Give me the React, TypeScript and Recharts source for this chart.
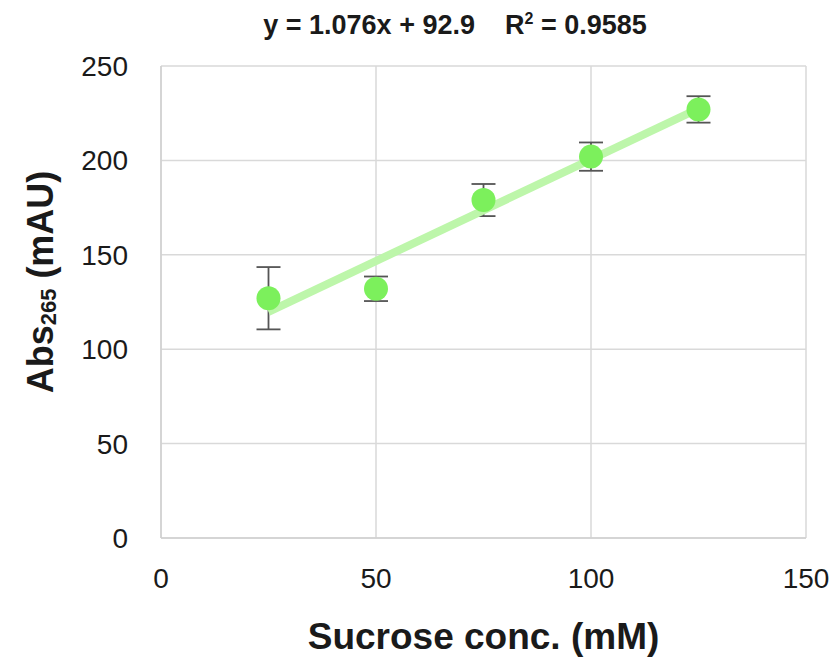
import React from 'react';
import { ComposedChart, Scatter, XAxis, YAxis, CartesianGrid, ErrorBar } from 'recharts';

const concentrations = [25, 50, 75, 100, 125];
const absorbance = [127, 132, 179, 202, 227];
const errors = [16.5, 6.5, 8.5, 7.5, 7];
const trendX = [25, 125];
const trendY = [119.8, 227.4];
const xTicks = [0, 50, 100, 150];
const yTicks = [0, 50, 100, 150, 200, 250];

const points = concentrations.map((c, i) => ({ x: c, y: absorbance[i], err: errors[i] }));
const trend = trendX.map((x, i) => ({ x, y: trendY[i] }));

const FONT = '"Liberation Sans", Arial, sans-serif';

const renderYLabel = ({ viewBox }: any) => {
  const cx = 40;
  const cy = viewBox.y + viewBox.height / 2 - 20;
  return (
    <text x={cx} y={cy} transform={`rotate(-90, ${cx}, ${cy})`} textAnchor="middle" dominantBaseline="central"
      fontFamily={FONT} fontWeight="bold" fontSize={36} fill="#1a1a1a">
      Abs<tspan fontSize={22} dy={8}>265</tspan><tspan dy={-8}> (mAU)</tspan>
    </text>
  );
};

const renderXLabel = ({ viewBox }: any) => {
  const cx = viewBox.x + viewBox.width / 2;
  return (
    <text x={cx} y={636} textAnchor="middle" dominantBaseline="central"
      fontFamily={FONT} fontWeight="bold" fontSize={37} fill="#1a1a1a">
      Sucrose conc. (mM)
    </text>
  );
};

export default function App() {
  return (
    <div style={{ position: 'absolute', left: 0, top: 0, width: 839, height: 658, background: '#fff' }}>
      <div style={{
        position: 'absolute', top: 10, left: 0, width: 910, textAlign: 'center',
        fontFamily: FONT, fontWeight: 'bold', fontSize: 27, color: '#1a1a1a', whiteSpace: 'pre'
      }}>
        y = 1.076x + 92.9    R<sup style={{ fontSize: 16 }}>2</sup> = 0.9585
      </div>
      <ComposedChart width={839} height={658} margin={{ top: 66, right: 33, bottom: 60, left: 0 }}>
        <CartesianGrid stroke="#d9d9d9" strokeWidth={1.5} horizontalValues={yTicks} verticalValues={xTicks} />
        <XAxis type="number" dataKey="x" domain={[0, 150]} ticks={xTicks} tickLine={false} height={60}
          axisLine={{ stroke: '#d0d0d0', strokeWidth: 1.5 }} tickMargin={24}
          tick={{ fill: '#1a1a1a', fontSize: 28, fontFamily: FONT }} label={{ content: renderXLabel }} />
        <YAxis type="number" dataKey="y" domain={[0, 250]} ticks={yTicks} width={161} tickLine={false}
          axisLine={{ stroke: '#d0d0d0', strokeWidth: 1.5 }} tickMargin={27}
          tick={{ fill: '#1a1a1a', fontSize: 28, fontFamily: FONT }} label={{ content: renderYLabel }} />
        <Scatter data={trend} dataKey="y" line={{ stroke: '#bdf6aa', strokeWidth: 8 }} shape={() => null}
          isAnimationActive={false} />
        <Scatter data={points} dataKey="y" fill="#7cf05c" isAnimationActive={false}
          shape={(p: any) => <circle cx={p.cx} cy={p.cy} r={12} fill="#7cf05c" />}>
          <ErrorBar dataKey="err" direction="y" width={12} stroke="#555" strokeWidth={1.8} />
        </Scatter>
      </ComposedChart>
    </div>
  );
}
